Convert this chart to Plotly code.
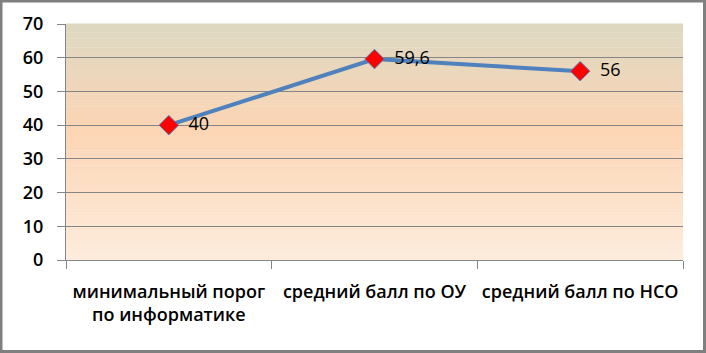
import plotly.graph_objects as go

categories = ["минимальный порог<br>по информатике", "средний балл по ОУ", "средний балл по НСО"]
values = [40, 59.6, 56]
value_labels = ["40", "59,6", "56"]
y_ticks = [0, 10, 20, 30, 40, 50, 60, 70]

W, H = 706, 353
ML, MR, MT, MB = 66, 23, 24, 93
PW = W - ML - MR
PH = H - MT - MB

fig = go.Figure()

fig.add_trace(go.Scatter(
    x=categories, y=values,
    mode="lines+markers+text",
    text=["  " + t for t in value_labels],
    textposition="middle right",
    textfont=dict(family="Open Sans", size=18, color="black"),
    line=dict(color="#4F81BD", width=4),
    marker=dict(symbol="diamond", size=15, color="#FF0000",
                line=dict(color="#4F81BD", width=1)),
    cliponaxis=False,
    showlegend=False,
))

# gradient background made of thin bands
stops = [(0.0, (253, 236, 221)), (0.55, (252, 213, 180)), (1.0, (221, 216, 194))]
def col(f):
    for (f0, c0), (f1, c1) in zip(stops[:-1], stops[1:]):
        if f0 <= f <= f1:
            t = (f - f0) / (f1 - f0)
            return "rgb(%d,%d,%d)" % tuple(round(a + (b - a) * t) for a, b in zip(c0, c1))
    return "rgb(%d,%d,%d)" % stops[-1][1]

N = 80
shapes = []
for i in range(N):
    f0 = i / N
    f1 = (i + 1) / N
    shapes.append(dict(type="rect", xref="x domain", yref="y domain",
                       x0=0, x1=1, y0=f0, y1=f1 + 0.002,
                       fillcolor=col((f0 + f1) / 2), line=dict(width=0),
                       layer="below"))
# outer frame
shapes.append(dict(type="rect", xref="paper", yref="paper",
                   x0=(-ML + 1) / PW, x1=(W - ML - 1.5) / PW,
                   y0=(-MB + 1.5) / PH, y1=(H - MB - 1) / PH,
                   line=dict(color="#7F7F7F", width=3), layer="above"))

fig.update_layout(
    width=W, height=H,
    margin=dict(l=ML, r=MR, t=MT, b=MB),
    paper_bgcolor="white",
    plot_bgcolor="white",
    shapes=shapes,
    font=dict(family="Open Sans", color="black"),
    xaxis=dict(
        type="category",
        range=[-0.5, 2.5],
        tickson="boundaries",
        ticks="outside", ticklen=8, tickcolor="#868686",
        showgrid=False,
        showline=True, linecolor="#868686", linewidth=1,
        tickfont=dict(family="Open Sans", size=18, color="black", weight=600),
        ticklabelstandoff=15,
    ),
    yaxis=dict(
        range=[0, 70],
        tickvals=y_ticks,
        ticks="outside", ticklen=8, tickcolor="#868686",
        showgrid=True, gridcolor="#868686", gridwidth=1,
        showline=True, linecolor="#868686", linewidth=1,
        zeroline=False,
        tickfont=dict(family="Open Sans", size=18, color="black", weight=600),
        ticklabelstandoff=10,
    ),
)

fig.write_html("out.html")
